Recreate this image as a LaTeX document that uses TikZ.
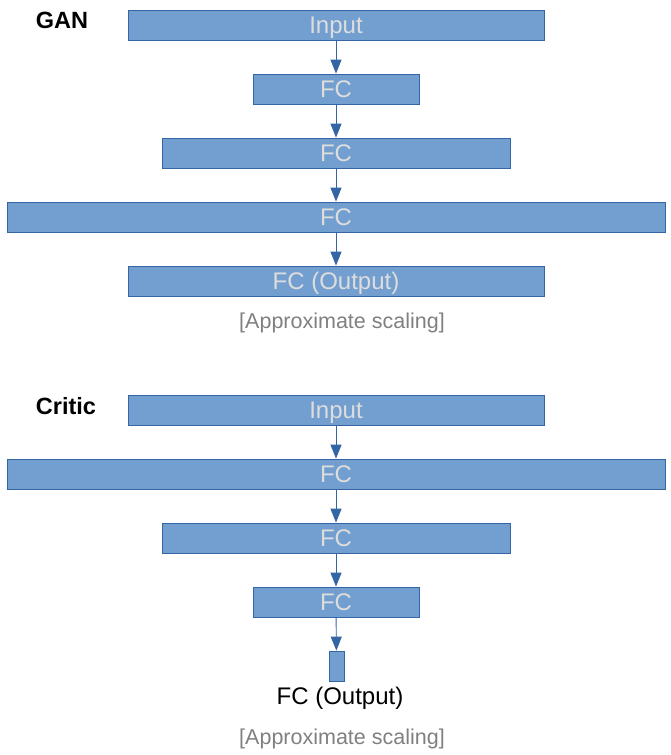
\documentclass[tikz,border=0pt]{standalone}
\usepackage{fontspec}
\setmainfont{Liberation Sans}
\usepackage{tikz}
\usetikzlibrary{arrows.meta, positioning}
\definecolor{layerfill}{HTML}{729FCF}
\definecolor{layerline}{HTML}{3465A4}
\definecolor{layertext}{HTML}{DDDDDD}
\definecolor{notegray}{HTML}{808080}
\tikzset{
  layer/.style={draw=layerline, fill=layerfill, line width=0.8pt, inner sep=0pt,
    minimum height=30pt, text=layertext, text height=17.2pt, text depth=0pt,
    font=\fontsize{24}{24}\selectfont},
  flow/.style={draw=layerline, line width=0.9pt, -{Triangle[width=11pt,length=14pt]}},
  note/.style={text=notegray, text height=15.4pt, text depth=0pt, font=\fontsize{21.5}{21.5}\selectfont},
  title/.style={font=\fontsize{23.5}{23.5}\selectfont\bfseries}
}

\begin{document}
\begin{tikzpicture}[x=1pt, y=-1pt]
\useasboundingbox (0,0) rectangle (671,755);
% GAN
\node[title] (gantitle) at (62,20) {GAN};
\node[layer, minimum width=416pt] (gin) at (336,25) {Input};
\node[layer, minimum width=166pt] (gfca) at (336,89) {FC};
\node[layer, minimum width=348pt] (gfcb) at (336,153) {FC};
\node[layer, minimum width=658pt] (gfcc) at (336,217) {FC};
\node[layer, minimum width=416pt] (gout) at (336,281) {FC (Output)};
\node[note] (gnote) at (342,321) {[Approximate scaling]};

\draw[flow] (gin) -- (gfca);
\draw[flow] (gfca) -- (gfcb);
\draw[flow] (gfcb) -- (gfcc);
\draw[flow] (gfcc) -- (gout);

% Critic
\node[title] (crtitle) at (66,406) {Critic};
\node[layer, minimum width=416pt] (cin) at (336,410) {Input};
\node[layer, minimum width=658pt] (cfca) at (336,474) {FC};
\node[layer, minimum width=348pt] (cfcb) at (336,538) {FC};
\node[layer, minimum width=166pt] (cfcc) at (336,602) {FC};
\node[layer, minimum width=15pt] (cout) at (336.5,666) {};
\node[font=\fontsize{24}{24}\selectfont, text height=17.2pt, text depth=0pt] (coutlabel) at (340,696) {FC (Output)};
\node[note] (cnote) at (342,737) {[Approximate scaling]};

\draw[flow] (cin) -- (cfca);
\draw[flow] (cfca) -- (cfcb);
\draw[flow] (cfcb) -- (cfcc);
\draw[flow] (cfcc) -- (cout);
\end{tikzpicture}
\end{document}
